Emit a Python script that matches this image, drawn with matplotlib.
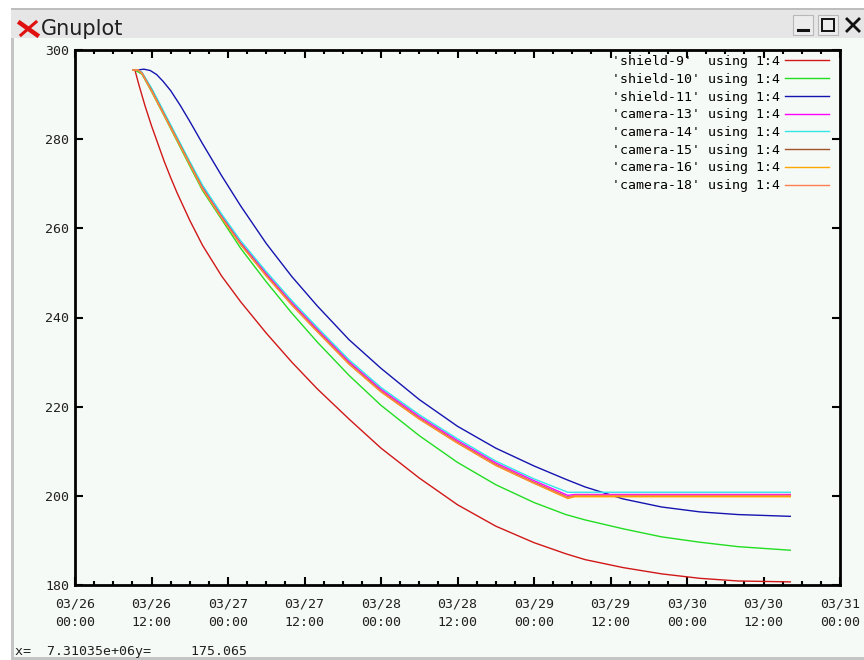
import numpy as np
import matplotlib
matplotlib.use('Agg')
import matplotlib.pyplot as plt
import matplotlib.dates as mdates
from matplotlib.patches import Rectangle
from matplotlib.lines import Line2D

# hours after 2000-03-26 00:00
t0 = np.datetime64('2000-03-26T00:00')

h_shield_9 = [9.4, 10, 11, 12, 13, 14, 15, 16, 18, 20, 23, 26, 30, 34, 38, 43, 48,
              54, 60, 66, 72, 77, 80, 86, 92, 98, 104, 112.2]
shield_9 = [295.5, 292.3, 287.4, 283.0, 279.0, 275.0, 271.4, 268.0, 261.8, 256.2,
            249.3, 243.5, 236.5, 230.0, 224.0, 217.2, 210.7, 204.0, 198.0, 193.2,
            189.5, 187.0, 185.7, 183.9, 182.5, 181.5, 180.9, 180.7]
h_shield_10 = [9.4, 10.5, 12, 14, 16, 18, 20, 23, 26, 30, 34, 38, 43, 48, 54,
               60, 66, 72, 77, 80, 86, 92, 98, 104, 112.2]
shield_10 = [295.5, 294.6, 290.7, 285.2, 279.6, 274.0, 268.5, 262.0, 255.5, 248.0,
             241.0, 234.5, 227.0, 220.3, 213.5, 207.5, 202.5, 198.5, 195.8, 194.6,
             192.6, 190.8, 189.6, 188.6, 187.8]
h_shield_11 = [9.8, 10.8, 11.8, 12.8, 13.8, 15, 16.5, 18, 20, 23, 26, 30, 34, 38, 43,
               48, 54, 60, 66, 72, 77, 80, 86, 92, 98, 104, 112.2]
shield_11 = [295.5, 295.7, 295.4, 294.5, 293.0, 290.9, 287.6, 284.0, 279.0, 271.8,
             265.0, 256.6, 249.2, 242.6, 235.0, 228.6, 221.6, 215.6, 210.7, 206.7,
             203.7, 202.0, 199.3, 197.5, 196.4, 195.8, 195.4]

h_camera = [9.1, 9.9, 10.5, 12, 14, 16, 18, 20, 23, 26, 30, 34, 38, 43, 48, 54,
            60, 66, 72, 77.3, 78.4, 112.2]
camera_13 = [295.5, 295.5, 294.9, 291.2, 285.7, 280.2, 274.7, 269.3, 262.8, 256.8,
             249.9, 243.4, 237.4, 230.1, 223.9, 217.8, 212.4, 207.4, 203.4, 200.1,
             200.3, 200.3]
camera_14 = [295.5, 295.5, 295.0, 291.5, 286.0, 280.5, 275.0, 269.7, 263.2, 257.2,
             250.3, 243.8, 237.8, 230.5, 224.3, 218.2, 212.8, 207.8, 203.8, 200.8,
             200.8, 200.8]
camera_15 = [295.5, 295.5, 294.8, 291.0, 285.5, 280.0, 274.5, 269.0, 262.5, 256.5,
             249.5, 243.0, 237.0, 229.7, 223.5, 217.4, 212.0, 207.0, 203.0, 199.7,
             200.0, 200.0]
camera_16 = [295.5, 295.5, 294.7, 290.8, 285.3, 279.8, 274.3, 268.8, 262.3, 256.3,
             249.3, 242.8, 236.8, 229.5, 223.3, 217.2, 211.8, 206.8, 202.8, 199.4,
             199.8, 199.8]
camera_18 = [295.5, 295.5, 294.8, 290.9, 285.4, 279.9, 274.4, 268.9, 262.4, 256.4,
             249.4, 242.9, 236.9, 229.6, 223.4, 217.3, 211.9, 206.9, 202.9, 199.6,
             200.1, 200.1]

labels = ["'shield-9'  using 1:4", "'shield-10' using 1:4", "'shield-11' using 1:4",
          "'camera-13' using 1:4", "'camera-14' using 1:4", "'camera-15' using 1:4",
          "'camera-16' using 1:4", "'camera-18' using 1:4"]
colors = ['#d01818', '#22dd22', '#1414b0', '#ff00ff', '#33e6e6', '#a0522d',
          '#ffa500', '#ff7f50']
series = [(h_shield_9, shield_9), (h_shield_10, shield_10), (h_shield_11, shield_11),
          (h_camera, camera_13), (h_camera, camera_14), (h_camera, camera_15),
          (h_camera, camera_16), (h_camera, camera_18)]


def to_time(hours):
    return t0 + (np.array(hours) * 60).astype('timedelta64[m]')


W, H = 864, 660
BG = '#f6faf6'
mono = 'DejaVu Sans Mono'
fig = plt.figure(figsize=(W / 100, H / 100), dpi=100)
fig.patch.set_facecolor(BG)

# window chrome
fig.add_artist(Rectangle((0, 1 - 9 / H), 1, 9 / H, transform=fig.transFigure,
                         facecolor='white', edgecolor='none'))
fig.add_artist(Rectangle((0, 0), 11 / W, 1, transform=fig.transFigure,
                         facecolor='white', edgecolor='none'))
fig.add_artist(Rectangle((11 / W, 0), 3 / W, 1 - 9 / H, transform=fig.transFigure,
                         facecolor='#c4c4c4', edgecolor='none'))
fig.add_artist(Rectangle((11 / W, 1 - 38 / H), 1, 29 / H, transform=fig.transFigure,
                         facecolor='#e6e6e6', edgecolor='none'))
fig.add_artist(Rectangle((11 / W, 1 - 10 / H), 1, 2 / H, transform=fig.transFigure,
                         facecolor='#bdbdbd', edgecolor='none'))
fig.add_artist(Rectangle((11 / W, 0), 1, 3 / H, transform=fig.transFigure,
                         facecolor='#c4c4c4', edgecolor='none'))
fig.add_artist(Line2D([20 / W, 37 / W], [1 - 23 / H, 1 - 35 / H], color='#e01010',
                      lw=3.2, transform=fig.transFigure))
fig.add_artist(Line2D([21 / W, 36 / W], [1 - 35 / H, 1 - 22 / H], color='#e01010',
                      lw=2.2, transform=fig.transFigure))
fig.text(41 / W, 1 - 35 / H, 'Gnuplot', fontsize=15, family='DejaVu Sans',
         color='#202020', va='baseline')
for x0 in (793, 818):
    fig.add_artist(Rectangle((x0 / W, 1 - 35 / H), 20 / W, 20 / H, transform=fig.transFigure,
                             facecolor='#ececec', edgecolor='#b8b8b8', lw=0.8))
fig.add_artist(Line2D([798 / W, 808 / W], [1 - 30 / H, 1 - 30 / H], color='#111111',
                      lw=2.2, transform=fig.transFigure))
fig.add_artist(Rectangle((822 / W, 1 - 31 / H), 12 / W, 12 / H, transform=fig.transFigure,
                         facecolor='none', edgecolor='#111111', lw=1.4))
fig.add_artist(Line2D([847 / W, 859 / W], [1 - 19 / H, 1 - 31 / H], color='#111111',
                      lw=2.0, transform=fig.transFigure))
fig.add_artist(Line2D([847 / W, 859 / W], [1 - 31 / H, 1 - 19 / H], color='#111111',
                      lw=2.0, transform=fig.transFigure))

ax = fig.add_axes([75 / W, 1 - 585 / H, 765 / W, 535 / H])
ax.set_facecolor(BG)
for (hh, vals), c, lab in zip(series, colors, labels):
    ax.plot(to_time(hh), vals, color=c, lw=1.0, label=lab)

ax.set_xlim(to_time([0])[0], to_time([120])[0])
ax.set_ylim(180, 300)
ax.set_yticks(np.arange(180, 301, 20))
ax.xaxis.set_major_locator(mdates.HourLocator(byhour=[0, 12]))
ax.xaxis.set_minor_locator(mdates.HourLocator(byhour=[3, 6, 9, 15, 18, 21]))
ax.xaxis.set_major_formatter(mdates.DateFormatter('%m/%d\n%H:%M'))
ax.tick_params(which='both', direction='in', top=True, right=True, color='black')
ax.tick_params(which='major', length=6, width=1.5)
ax.tick_params(which='minor', length=3, width=1.5)
ax.tick_params(axis='x', which='major', pad=9)
ax.tick_params(axis='y', pad=4)
for lbl in ax.get_xticklabels() + ax.get_yticklabels():
    lbl.set_family(mono)
    lbl.set_fontsize(9.5)
    lbl.set_color('#202020')
    lbl.set_linespacing(1.5)
for sp in ax.spines.values():
    sp.set_linewidth(2)

leg = ax.legend(loc='upper right', bbox_to_anchor=(829 / W, 1 - 55 / H),
                bbox_transform=fig.transFigure, frameon=False, markerfirst=False,
                prop={'family': mono, 'size': 9.5}, handlelength=3.3,
                handletextpad=0.4, labelspacing=0.36, borderpad=0, borderaxespad=0)

fig.text(15 / W, 1 - 655 / H, 'x=  7.31035e+06y=     175.065', family=mono,
         fontsize=9.5, color='#202020', va='baseline')

fig.savefig('out.png', dpi=100, facecolor=fig.get_facecolor())
